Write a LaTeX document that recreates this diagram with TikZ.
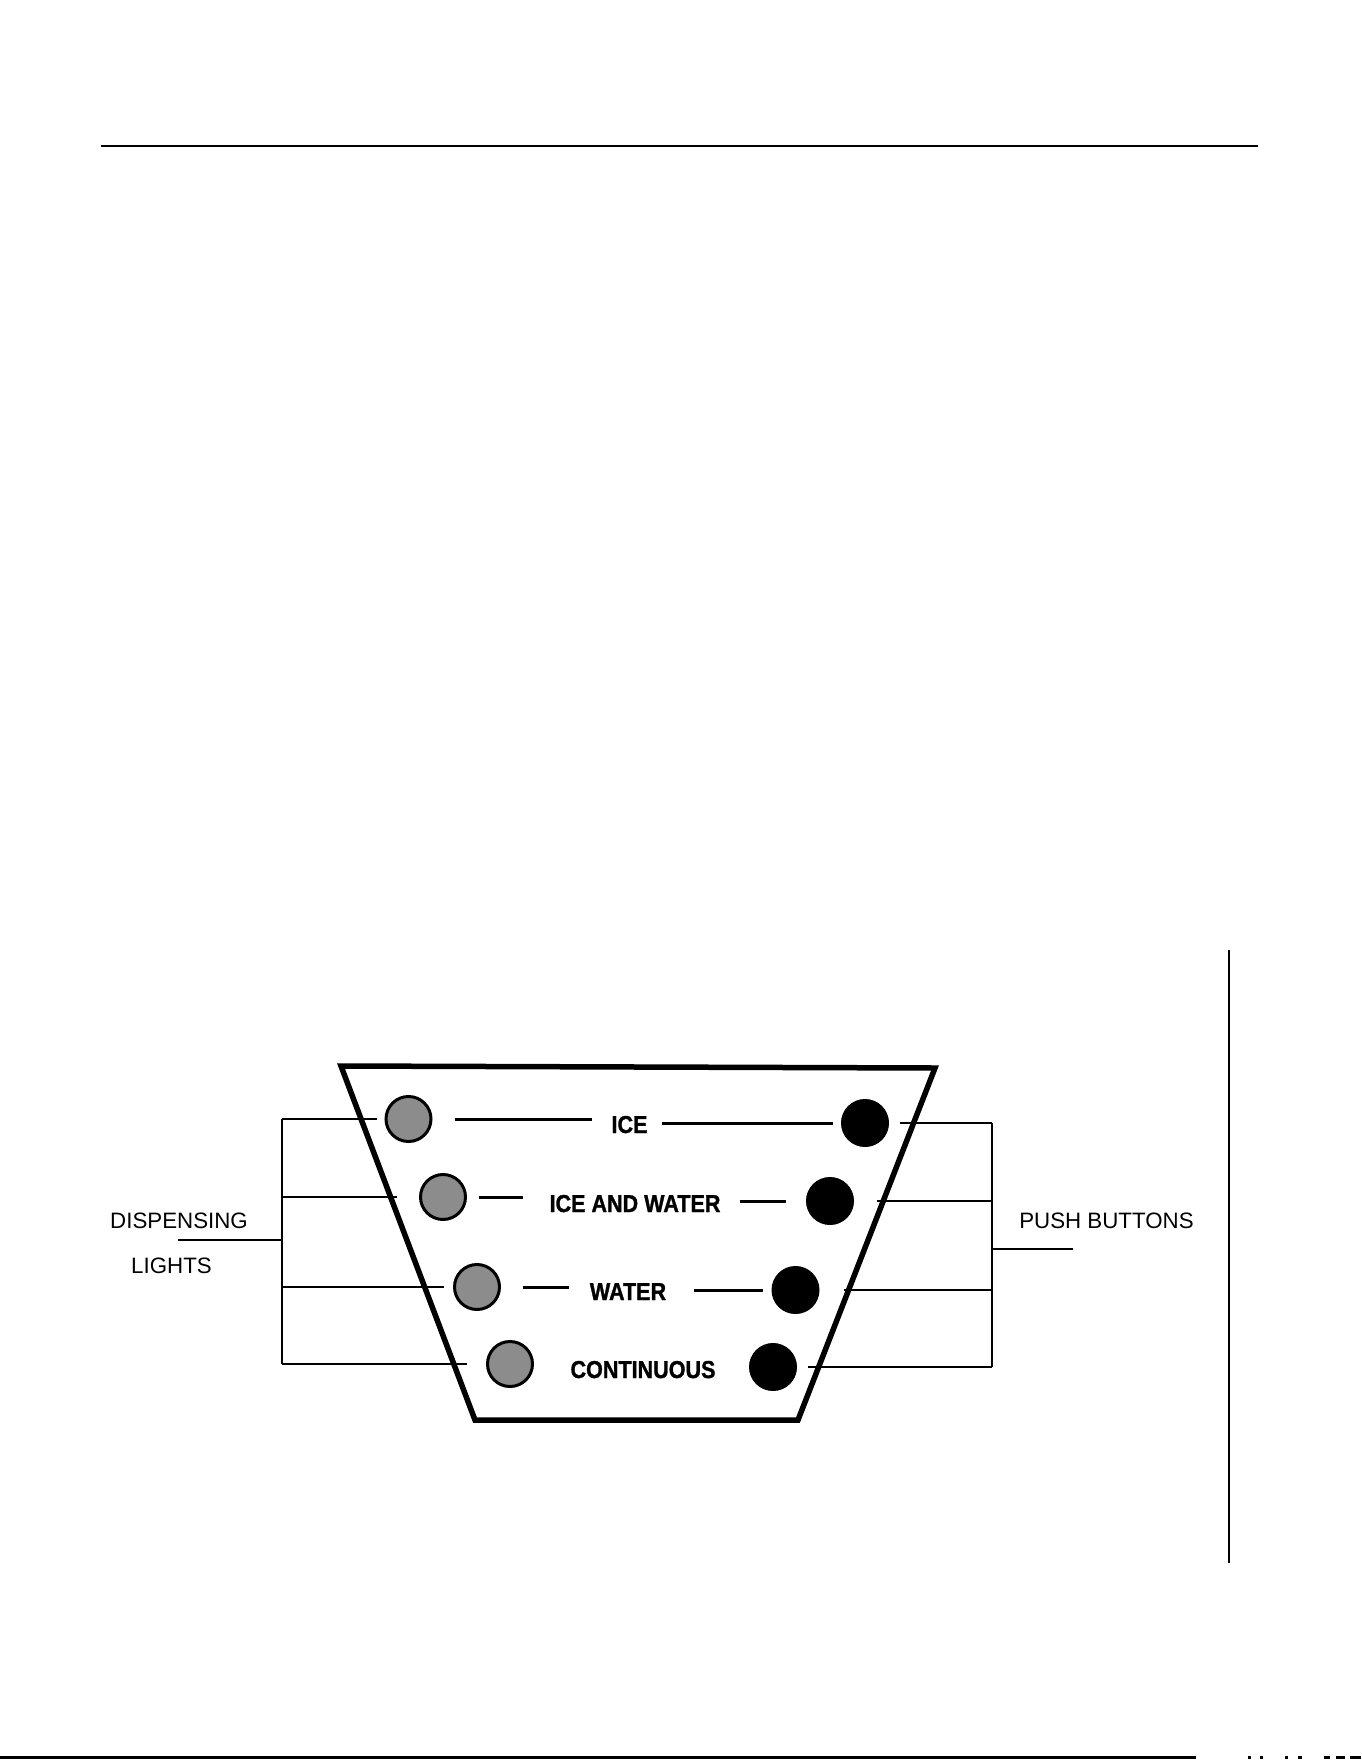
\documentclass[tikz,border=0pt]{standalone}
\usepackage{fontspec}
\setmainfont{Liberation Sans}
\newfontfamily\condfont[FakeStretch=0.88,BoldFeatures={FakeBold=1.2}]{Liberation Sans}
\begin{document}
\begin{tikzpicture}[x=1pt,y=-1pt,
  lightnode/.style={circle, draw=black, line width=3pt, fill=black!45, minimum size=45pt, inner sep=0pt},
  btnnode/.style={circle, fill=black, draw=black, line width=1pt, minimum size=47pt, inner sep=0pt},
  panellab/.style={font=\condfont\bfseries\fontsize{24.5}{24}\selectfont, inner sep=0pt, anchor=base},
  outerlab/.style={font=\fontsize{22.3}{24}\selectfont, inner sep=0pt, anchor=base},
  wire/.style={line width=2.5pt},
  dashln/.style={line width=3pt},
  rule/.style={line width=2pt}]
\useasboundingbox (0,0) rectangle (1361,1761);

% page rules
\coordinate (tr1) at (101,146);
\coordinate (tr2) at (1258,146);
\draw[rule] (tr1) -- (tr2);
\coordinate (vr1) at (1229,950);
\coordinate (vr2) at (1229,1563);
\draw[rule] (vr1) -- (vr2);
\coordinate (br1) at (0,1757);
\coordinate (br2) at (1196,1757);
\draw[line width=3pt] (br1) -- (br2);
\foreach \a/\b in {1248/1251,1260/1263,1285/1288,1298/1302,1324/1330,1336/1345,1350/1361}{
  \draw[line width=3pt] (\a,1757) -- (\b,1757);
}

% panel outline
\coordinate (p1) at (341,1066);
\coordinate (p2) at (935,1068);
\coordinate (p3) at (798,1420);
\coordinate (p4) at (475,1420);
\draw[line width=5.5pt, line join=miter] (p1) -- (p2) -- (p3) -- (p4) -- cycle;

% lights
\node[lightnode] (l1) at (408.5,1119) {};
\node[lightnode] (l2) at (443,1197) {};
\node[lightnode] (l3) at (477,1287) {};
\node[lightnode] (l4) at (510,1364) {};

% buttons
\node[btnnode] (b1) at (865,1123) {};
\node[btnnode] (b2) at (830,1201) {};
\node[btnnode] (b3) at (795.5,1290) {};
\node[btnnode] (b4) at (773,1367) {};

% panel labels
\node[panellab] (t1) at (629.5,1133) {ICE};
\node[panellab] (t2) at (635,1212) {ICE AND WATER};
\node[panellab] (t3) at (628,1300) {WATER};
\node[panellab] (t4) at (643,1378) {CONTINUOUS};

% dashes between lights, labels, buttons (horizontal)
\draw[dashln] ([xshift=22pt]l1.east) -- ([xshift=-19pt]t1.west |- l1.east);
\draw[dashln] ([xshift=14pt]t1.east |- b1.west) -- ([xshift=-8.5pt]b1.west);
\draw[dashln] ([xshift=11.5pt]l2.east) -- ([xshift=-26pt]t2.west |- l2.east);
\draw[dashln] ([xshift=19pt]t2.east |- b2.west) -- ([xshift=-20pt]b2.west);
\draw[dashln] ([xshift=22pt]l3.east) -- ([xshift=-21pt]t3.west |- l3.east);
\draw[dashln] ([xshift=28pt]t3.east |- b3.west) -- ([xshift=-8.5pt]b3.west);

% left bracket
\coordinate (lb1) at (282,1119);
\coordinate (lb4) at (282,1364);
\coordinate (lbm) at (282,1240);
\coordinate (lbs) at (178,1240);
\draw[wire] (lb1) -- (lb4);
\draw[wire] (lb1) -- ([xshift=-7.5pt]l1.west);
\draw[wire] (l2.west -| lb1) -- ([xshift=-22pt]l2.west);
\draw[wire] (l3.west -| lb1) -- ([xshift=-9pt]l3.west);
\draw[wire] (lb4) -- ([xshift=-19.5pt]l4.west);
\draw[wire] (lbm) -- (lbs);

% right bracket
\coordinate (rb1) at (992,1123);
\coordinate (rb4) at (992,1367);
\coordinate (rbm) at (992,1249);
\coordinate (rbs) at (1073,1249);
\draw[wire] (rb1) -- (rb4);
\draw[wire] ([xshift=11pt]b1.east) -- (rb1);
\draw[wire] ([xshift=23pt]b2.east) -- (b2.east -| rb1);
\draw[wire] ([xshift=24.5pt]b3.east) -- (b3.east -| rb1);
\draw[wire] ([xshift=11pt]b4.east) -- (rb4);
\draw[wire] (rbm) -- (rbs);

% outer labels
\node[outerlab] (dl1) at (179,1228) {DISPENSING};
\node[outerlab] (dl2) at (171.5,1273) {LIGHTS};
\node[outerlab] (pb) at (1106.5,1228) {PUSH BUTTONS};
\end{tikzpicture}
\end{document}
